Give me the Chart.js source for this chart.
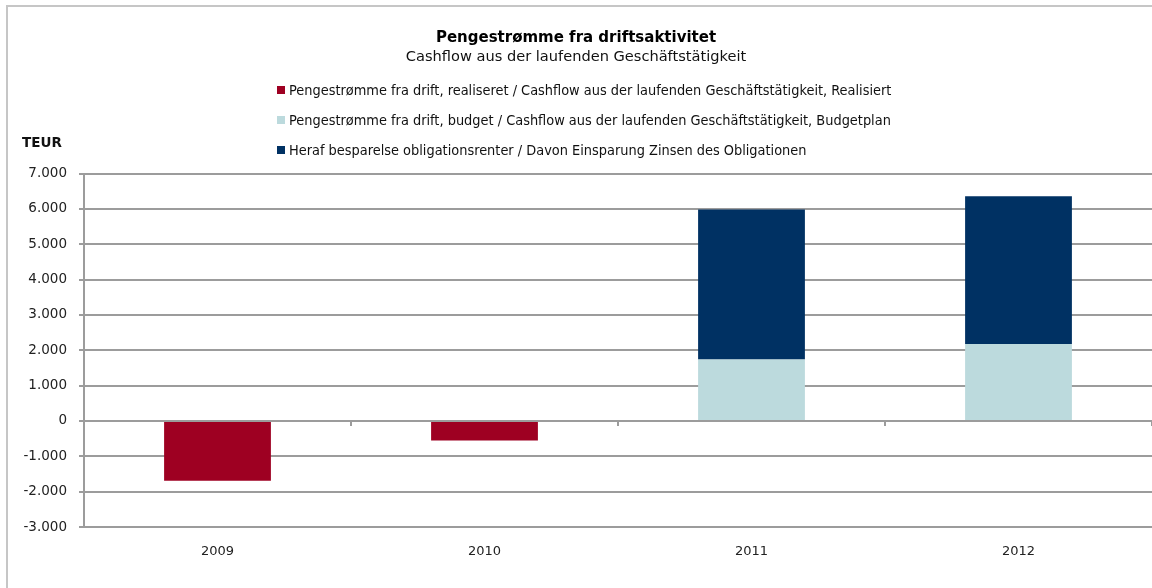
<!DOCTYPE html>
<html>
<head>
<meta charset="utf-8">
<script src="https://cdn.jsdelivr.net/npm/chart.js@4/dist/chart.umd.min.js"></script>
<style>
  html, body { margin: 0; padding: 0; background: #fff; }
  #wrap { position: relative; width: 1152px; height: 588px; overflow: hidden; background: #fff; }
  #frame { position: absolute; left: 6px; top: 5px; width: 1200px; height: 640px;
           border-left: 2px solid #c6c6c6; border-top: 2px solid #c6c6c6; }
  #chart { position: absolute; left: 0; top: 0; }
  #unit { position: absolute; left: 22px; top: 134px; font: bold 13.5px "DejaVu Sans", sans-serif; color: #111; }
  #legend { position: absolute; left: 277px; top: 81px; margin: 0; padding: 0; list-style: none;
            font: 14.4px "DejaVu Sans Condensed", "DejaVu Sans", sans-serif; color: #111; }
  #legend li { height: 30px; line-height: 18px; white-space: nowrap; }
  #legend span { display: inline-block; width: 8px; height: 8px; margin-right: 4px; vertical-align: 1px; }
</style>
</head>
<body>
<div id="wrap">
  <div id="frame"></div>
  <canvas id="chart" width="1152" height="588"></canvas>
  <div id="unit">TEUR</div>
  <ul id="legend"></ul>
</div>
<script>
// data (TEUR)
const years = ["2009", "2010", "2011", "2012"];
const realised = [-1690, -550, null, null];
const budget = [null, null, 1740, 2180];
const savedInterest = [null, null, 4240, 4180];

const labelRealised = "Pengestrømme fra drift, realiseret / Cashflow aus der laufenden Geschäftstätigkeit, Realisiert";
const labelBudget = "Pengestrømme fra drift, budget / Cashflow aus der laufenden Geschäftstätigkeit, Budgetplan";
const labelSaved = "Heraf besparelse obligationsrenter / Davon Einsparung Zinsen des Obligationen";

const yMin = -3000;
const yMax = 7000;
const yStep = 1000;

const gridColor = "#9c9c9c";
const font = "'DejaVu Sans', sans-serif";

// 1.000 style thousands separator
function fmtThousands(v) {
  const s = String(Math.abs(v)).replace(/\B(?=(\d{3})+(?!\d))/g, ".");
  return v < 0 ? "-" + s : s;
}

function barSet(label, data, color) {
  return {
    label: label,
    data: data,
    backgroundColor: color,
    borderWidth: 0,
    categoryPercentage: 0.4,
    barPercentage: 1.0,
    stack: "cash"
  };
}

const ctx = document.getElementById("chart").getContext("2d");
const chart = new Chart(ctx, {
  type: "bar",
  data: {
    labels: years,
    datasets: [
      barSet(labelRealised, realised, "#9e0022"),
      barSet(labelBudget, budget, "#bcdadd"),
      barSet(labelSaved, savedInterest, "#003163")
    ]
  },
  options: {
    responsive: false,
    animation: false,
    layout: { padding: 0 },
    scales: {
      x: {
        stacked: true,
        grid: { display: false, drawTicks: false },
        border: { display: false },
        ticks: { color: "#222", font: { family: font, size: 13 }, padding: 17 },
        afterFit: s => { s.height = 61; }
      },
      // category axis sitting on zero, only for the little tick marks
      xz: {
        type: "category",
        labels: years,
        position: { y: 0 },
        offset: true,
        grid: { drawOnChartArea: false, drawTicks: true, tickLength: 5, color: gridColor, lineWidth: 2, offset: true },
        border: { display: false },
        ticks: { display: false }
      },
      y: {
        stacked: true,
        min: yMin,
        max: yMax,
        ticks: {
          stepSize: yStep,
          color: "#222",
          padding: 12,
          font: { family: font, size: 13.5 },
          callback: v => fmtThousands(v)
        },
        grid: { color: gridColor, lineWidth: 2, tickLength: 5 },
        border: { display: true, color: gridColor, width: 2 },
        afterFit: s => { s.width = 84; }
      }
    },
    plugins: {
      legend: { display: false },
      tooltip: { enabled: false },
      title: {
        display: true,
        text: "Pengestrømme fra driftsaktivitet",
        color: "#000",
        font: { family: font, size: 15, weight: "bold" },
        padding: { top: 29, bottom: 0 }
      },
      subtitle: {
        display: true,
        text: "Cashflow aus der laufenden Geschäftstätigkeit",
        color: "#111",
        font: { family: font, size: 14.6 },
        padding: { top: 1, bottom: 108 }
      }
    }
  }
});

// html legend, one row per dataset
const ul = document.getElementById("legend");
chart.data.datasets.forEach(ds => {
  const li = document.createElement("li");
  const box = document.createElement("span");
  box.style.background = ds.backgroundColor;
  li.appendChild(box);
  li.appendChild(document.createTextNode(ds.label));
  ul.appendChild(li);
});
</script>
</body>
</html>
